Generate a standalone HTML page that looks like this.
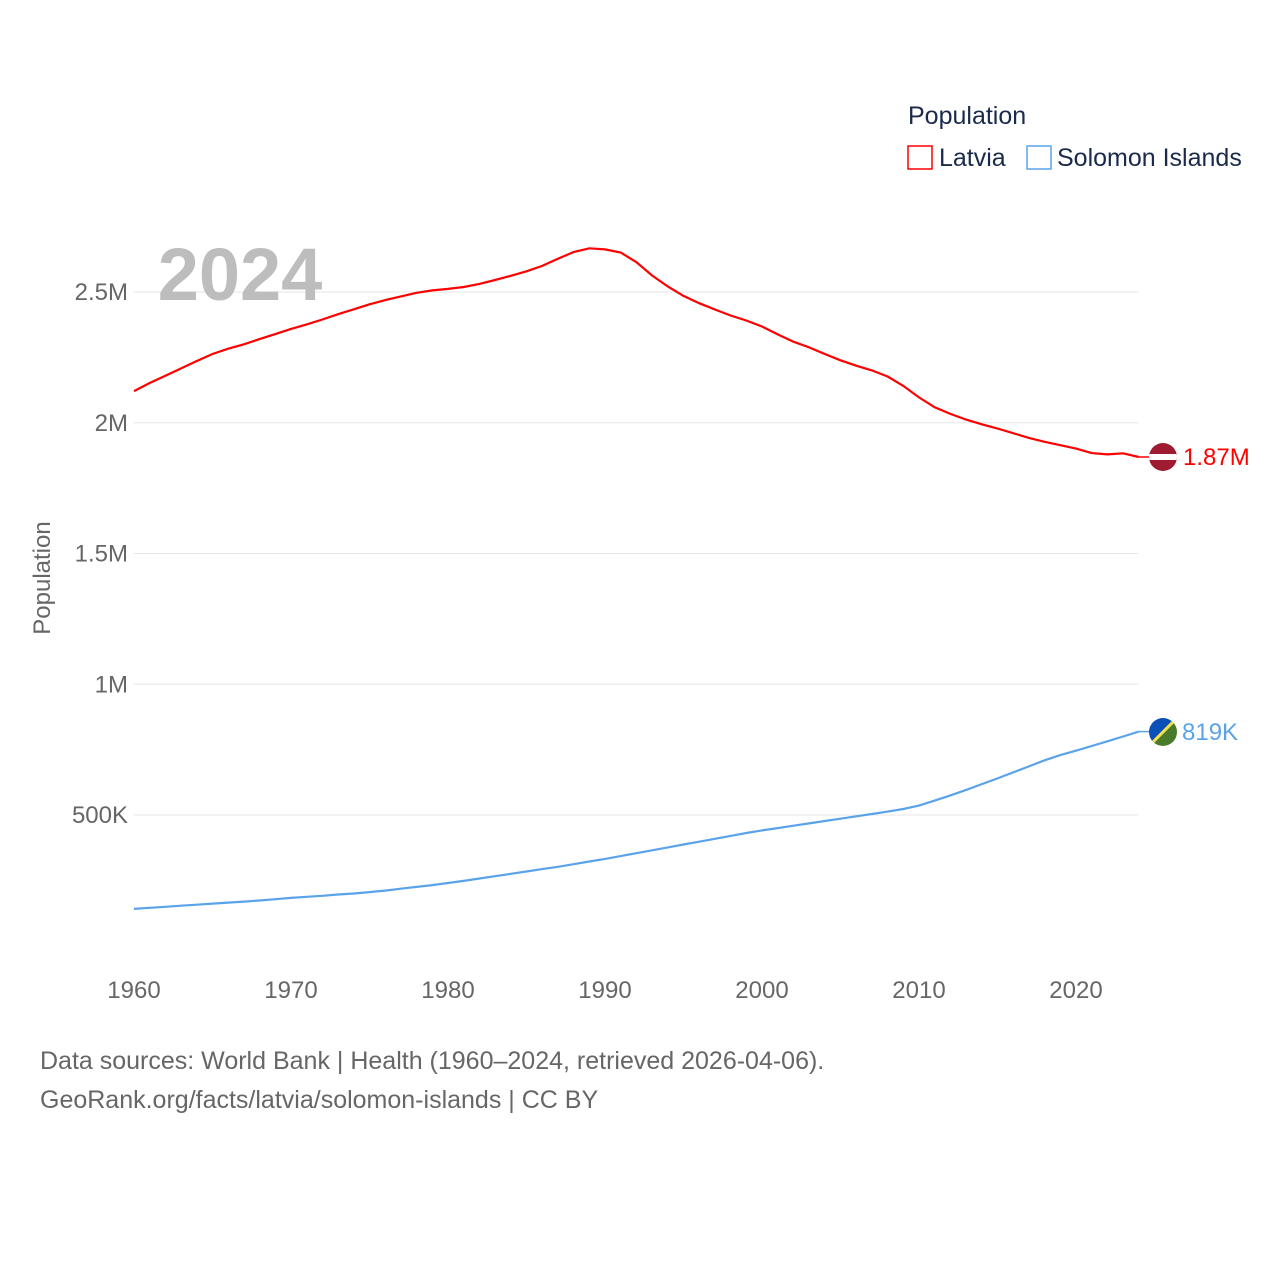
<!DOCTYPE html>
<html><head><meta charset="utf-8"><style>
html,body{margin:0;padding:0;background:#fff;}
svg{display:block;font-family:"Liberation Sans",sans-serif;}
</style></head><body>
<svg id="chart" width="1280" height="1280" viewBox="0 0 1280 1280">
<defs>
<clipPath id="c1"><circle cx="1163" cy="457" r="14"/></clipPath>
<clipPath id="c2"><circle cx="1163" cy="732" r="14"/></clipPath>
</defs>
<g id="grid"></g>
<g id="yticks"></g>
<g id="xticks"></g>
<text x="240" y="300" font-size="74" font-weight="bold" fill="#bdbdbd" text-anchor="middle">2024</text>
<text transform="translate(50,578) rotate(-90)" font-size="24" fill="#666" text-anchor="middle">Population</text>
<g id="lines"></g>
<g clip-path="url(#c1)">
<rect x="1149" y="443" width="28" height="28" fill="#9e1b32"/>
<rect x="1149" y="454" width="28" height="6" fill="#fff"/>
</g>
<g clip-path="url(#c2)">
<polygon points="1149,718 1177,718 1149,746" fill="#0b50b8"/>
<polygon points="1177,718 1177,746 1149,746" fill="#4a7a2c"/>
<line x1="1177" y1="718" x2="1149" y2="746" stroke="#f5e04a" stroke-width="3"/>
</g>
<text x="1183" y="465" font-size="24" fill="#ff0000">1.87M</text>
<text x="1182" y="740" font-size="24" fill="#5aa3ea">819K</text>
<text x="908" y="124" font-size="25" fill="#1a2a4a">Population</text>
<g>
<rect x="908" y="146" width="24" height="23" fill="none" stroke="#ff0000" stroke-width="1.5"/>
<text x="939" y="166" font-size="25" fill="#1a2a4a">Latvia</text></g>
<g>
<rect x="1027" y="146" width="24" height="23" fill="none" stroke="#5aa3ea" stroke-width="1.5"/>
<text x="1057" y="166" font-size="25" fill="#1a2a4a">Solomon Islands</text></g>
<text x="40" y="1069" font-size="25" fill="#666">Data sources: World Bank | Health (1960–2024, retrieved 2026-04-06).</text>
<text x="40" y="1108" font-size="25" fill="#666">GeoRank.org/facts/latvia/solomon-islands | CC BY</text>
</svg>
<script>
const years = [];for(let y=1960;y<=2024;y++)years.push(y);
const latvia = [2121,2152,2180,2208,2236,2263,2283,2300,2320,2339,2359,2376,2395,2415,2434,2453,2469,2483,2497,2506,2512,2519,2531,2546,2562,2579,2600,2627,2653,2667,2663,2651,2614,2563,2521,2485,2457,2433,2410,2391,2368,2338,2310,2288,2263,2239,2218,2200,2177,2141,2097,2059,2034,2012,1994,1978,1960,1942,1927,1914,1901,1884,1879,1883,1869];
const solomon = [141,145,149,153,157,161,165,169,173,178,183,187,191,196,200,205,211,218,225,232,240,248,257,266,275,284,293,302,312,322,332,343,354,365,376,387,398,409,420,431,441,450,459,468,477,486,495,504,513,523,536,555,575,596,618,640,663,686,709,729,746,764,782,800,819];
const yTicks = [500,1000,1500,2000,2500];
const yTickLabels = ["500K","1M","1.5M","2M","2.5M"];
const xTicks = [1960,1970,1980,1990,2000,2010,2020];
const NS="http://www.w3.org/2000/svg";
const x = yr => 134 + (yr-1960)*(942/60);
const y = v => 815 - (v-500)/500*130.75;
const grid=document.getElementById('grid'),yt=document.getElementById('yticks'),xt=document.getElementById('xticks'),lines=document.getElementById('lines');
yTicks.forEach((t,i)=>{
 const l=document.createElementNS(NS,'line');
 l.setAttribute('x1',134);l.setAttribute('x2',1138);l.setAttribute('y1',y(t));l.setAttribute('y2',y(t));
 l.setAttribute('stroke','#e6e6e6');l.setAttribute('stroke-width','1');
 
 
 grid.appendChild(l);
 const tx=document.createElementNS(NS,'text');
 tx.setAttribute('x',128);tx.setAttribute('y',y(t)+8);tx.setAttribute('text-anchor','end');
 tx.setAttribute('font-size','24');tx.setAttribute('fill','#666');tx.textContent=yTickLabels[i];
 
 
 yt.appendChild(tx);
});
xTicks.forEach(t=>{
 const tx=document.createElementNS(NS,'text');
 tx.setAttribute('x',x(t));tx.setAttribute('y',998);tx.setAttribute('text-anchor','middle');
 tx.setAttribute('font-size','24');tx.setAttribute('fill','#666');tx.textContent=t;
 
 
 xt.appendChild(tx);
});
function draw(vals,color,name){
 const p=document.createElementNS(NS,'path');
 p.setAttribute('d',vals.map((v,i)=>(i?'L':'M')+x(years[i]).toFixed(1)+','+y(v).toFixed(1)).join(''));
 p.setAttribute('fill','none');p.setAttribute('stroke',color);p.setAttribute('stroke-width','2.2');
 
 
 lines.appendChild(p);
 const c=document.createElementNS(NS,'line');
 const ly=y(vals[vals.length-1]);
 c.setAttribute('x1',x(2024));c.setAttribute('x2',1149);c.setAttribute('y1',ly);c.setAttribute('y2',ly);
 c.setAttribute('stroke',color);c.setAttribute('stroke-width','1.5');
 
 
 lines.appendChild(c);
}
draw(latvia,'#ff0000','latvia-line');
draw(solomon,'#5aa3ea','solomon-islands-line');
</script>
</body></html>
